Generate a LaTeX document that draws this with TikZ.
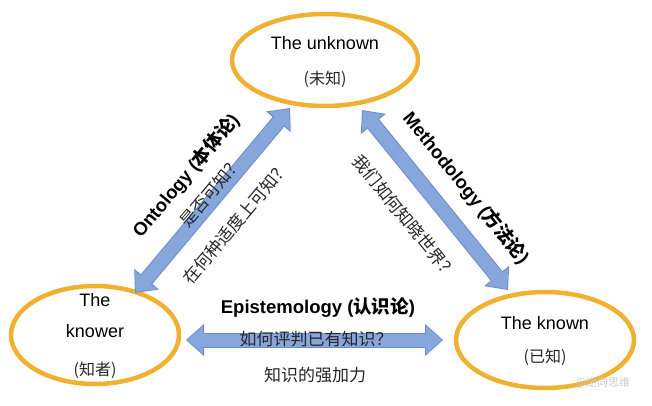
\documentclass[tikz,border=0pt]{standalone}
\usepackage{fontspec}
\setmainfont{Liberation Sans}
\newfontfamily\cjk{Noto Sans CJK SC}
\usetikzlibrary{shapes.geometric,arrows.meta}
\definecolor{org}{HTML}{F0B030}
\definecolor{bfill}{HTML}{86A6DC}
\definecolor{bedge}{HTML}{6A8CC8}
\begin{document}
\begin{tikzpicture}[x=1pt,y=1pt,
  ell/.style={ellipse,draw=org,line width=4.5pt,fill=white},
  fato/.style={line width=15pt,draw=bedge,{Triangle[length=18pt,width=31pt]}-{Triangle[length=18pt,width=31pt]}},
  fati/.style={line width=13pt,draw=bfill,{Triangle[length=15.5pt,width=27pt]}-{Triangle[length=15.5pt,width=27pt]},shorten >=1.3pt,shorten <=1.3pt},
  lab/.style={font=\bfseries\fontsize{18.5}{20}\selectfont,inner sep=1pt},
  txt/.style={font=\fontsize{18}{20}\selectfont},
  cn/.style={font=\cjk\fontsize{17}{19}\selectfont,text=black!85,inner sep=1pt},
  cns/.style={font=\cjk\fontsize{16}{18}\selectfont,text=black!85}]
\useasboundingbox (0,0) rectangle (652,405);
\fill[white] (0,0) rectangle (652,405);
\node[ell,minimum width=186pt,minimum height=92pt] (u) at (325,345) {};
\node[ell,minimum width=168pt,minimum height=98pt] (k) at (95,70) {};
\node[ell,minimum width=178pt,minimum height=96pt] (n) at (545,65) {};
\node[txt] (ut) at (325,362) {The unknown};
\node[cns] (uc) at (325,326) {(未知)};
\node[txt] (kt1) at (95,105) {The};
\node[txt] (kt2) at (95,74) {knower};
\node[cns] (kc) at (95,35) {(知者)};
\node[txt] (nt) at (545,82) {The known};
\node[cns] (nc) at (545,48) {(已知)};
\coordinate (a1) at (135,112); \coordinate (a2) at (290,297);
\coordinate (b1) at (362,295); \coordinate (b2) at (508,115);
\coordinate (c1) at (186,65); \coordinate (c2) at (443,65);
\foreach \p/\q in {a1/a2,b1/b2,c1/c2}{\draw[fato] (\p) -- (\q); \draw[fati] (\p) -- (\q);}
\node[lab,rotate=50.1] (on) at (186,229) {Ontology ({\cjk 本体论})};
\node[cn,rotate=50.1] (o1) at (211,213) {是否可知？};
\node[cn,rotate=50.1] (o2) at (236,182) {在何种适度上可知？};
\node[lab,rotate=-51] (me) at (466,217) {Methodology ({\cjk 方法论})};
\node[cn,rotate=-51] (m1) at (405,188) {我们如何知晓世界？};
\node[lab] (ep) at (318,97) {Epistemology ({\cjk 认识论})};
\node[cn] (e1) at (316,66) {如何评判已有知识？};
\node[cn] (e2) at (315,30) {知识的强加力};
\node[font=\cjk\fontsize{11}{12}\selectfont,text=black!20] (wm) at (603,22) {@逆向思维};
\end{tikzpicture}
\end{document}
